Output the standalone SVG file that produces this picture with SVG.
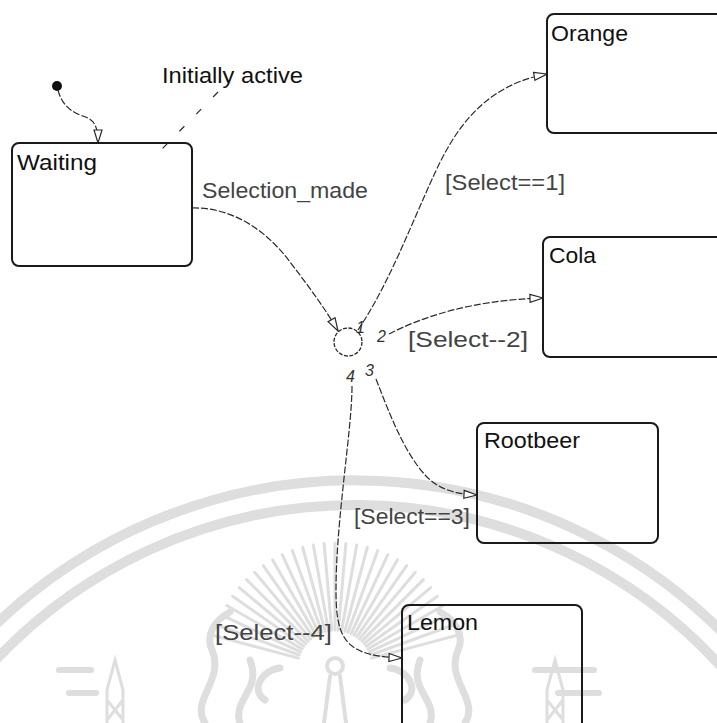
<svg xmlns="http://www.w3.org/2000/svg" xmlns:xlink="http://www.w3.org/1999/xlink" width="717" height="723" viewBox="0 0 717 723">
  <style>
    .wm { fill: none; stroke: #dedede; stroke-linecap: round; }
    .box { fill: none; stroke: #1a1a1a; stroke-width: 2; }
    .title { font-family: "Liberation Sans", Arial, sans-serif; font-size: 22px; fill: #111; }
    .label { font-family: "Liberation Sans", Arial, sans-serif; font-size: 22px; fill: #444; }
    .num { font-family: "Liberation Sans", Arial, sans-serif; font-size: 16px; font-style: italic; fill: #333; }
    .conn { fill: none; stroke: #2a2a2a; stroke-width: 1.2; stroke-dasharray: 7 2; marker-end: url(#open); }
    .note { fill: none; stroke: #2a2a2a; stroke-width: 1.2; stroke-dasharray: 7 17; }
  </style>
  <defs>
    <marker id="open" viewBox="0 0 15 10" refX="14" refY="5" markerWidth="15" markerHeight="10" markerUnits="userSpaceOnUse" orient="auto">
      <path d="M1,1 L14,5 L1,9 Z" fill="#fff" stroke="#2a2a2a" stroke-width="1.2" stroke-dasharray="none"/>
    </marker>
    <line id="ray" x1="38" y1="0" x2="125" y2="0"/>
  </defs>

  <!-- faint watermark -->
  <g id="watermark">
    <path class="wm" stroke-width="10" d="M -10 630 A 520 520 0 0 1 727 637"/>
    <path class="wm" stroke-width="10" d="M -10 666 A 495 495 0 0 1 727 673"/>
    <g class="wm" stroke-width="3" transform="translate(335 668)">
      <use xlink:href="#ray" transform="rotate(-165)"/>
      <use xlink:href="#ray" transform="rotate(-160)"/>
      <use xlink:href="#ray" transform="rotate(-155)"/>
      <use xlink:href="#ray" transform="rotate(-150)"/>
      <use xlink:href="#ray" transform="rotate(-145)"/>
      <use xlink:href="#ray" transform="rotate(-140)"/>
      <use xlink:href="#ray" transform="rotate(-135)"/>
      <use xlink:href="#ray" transform="rotate(-130)"/>
      <use xlink:href="#ray" transform="rotate(-125)"/>
      <use xlink:href="#ray" transform="rotate(-120)"/>
      <use xlink:href="#ray" transform="rotate(-115)"/>
      <use xlink:href="#ray" transform="rotate(-110)"/>
      <use xlink:href="#ray" transform="rotate(-105)"/>
      <use xlink:href="#ray" transform="rotate(-100)"/>
      <use xlink:href="#ray" transform="rotate(-95)"/>
      <use xlink:href="#ray" transform="rotate(-90)"/>
      <use xlink:href="#ray" transform="rotate(-85)"/>
      <use xlink:href="#ray" transform="rotate(-80)"/>
      <use xlink:href="#ray" transform="rotate(-75)"/>
      <use xlink:href="#ray" transform="rotate(-70)"/>
      <use xlink:href="#ray" transform="rotate(-65)"/>
      <use xlink:href="#ray" transform="rotate(-60)"/>
      <use xlink:href="#ray" transform="rotate(-55)"/>
      <use xlink:href="#ray" transform="rotate(-50)"/>
      <use xlink:href="#ray" transform="rotate(-45)"/>
      <use xlink:href="#ray" transform="rotate(-40)"/>
      <use xlink:href="#ray" transform="rotate(-35)"/>
      <use xlink:href="#ray" transform="rotate(-30)"/>
      <use xlink:href="#ray" transform="rotate(-25)"/>
      <use xlink:href="#ray" transform="rotate(-20)"/>
      <use xlink:href="#ray" transform="rotate(-15)"/>
    </g>
    <circle class="wm" stroke-width="4" cx="335" cy="666" r="8"/>
    <path class="wm" stroke-width="4" d="M 330 676 L 324 723 M 340 676 L 346 723"/>
    <path class="wm" stroke-width="6" d="M 59 670 L 91 670 M 69 693 L 96 693 M 535 670 L 594 670 M 558 693 L 599 693"/>
    <path class="wm" stroke-width="7" d="M 205 723 C 190 700, 225 680, 212 650 C 205 635, 215 620, 230 612 M 240 723 C 232 700, 262 690, 250 660 M 265 700 C 250 690, 262 670, 280 668"/>
    <path class="wm" stroke-width="7" d="M 465 723 C 480 700, 445 680, 458 650 C 465 635, 455 620, 440 612 M 430 723 C 438 700, 408 690, 420 660 M 405 700 C 420 690, 408 670, 390 668"/>
    <path class="wm" stroke-width="3" d="M 107 723 L 107 690 L 115 660 L 123 690 L 123 723 M 107 700 L 123 720 M 123 700 L 107 720"/>
    <path class="wm" stroke-width="3" d="M 547 723 L 547 690 L 555 660 L 563 690 L 563 723 M 547 700 L 563 720 M 563 700 L 547 720"/>
  </g>

  <!-- connectors -->
  <g id="connectors">
    <circle id="initial" cx="57" cy="86" r="5" fill="#111"/>
    <path class="conn" d="M 58 90 C 61 102, 68 110, 80 115 C 92 119, 98 122, 98 143"/>
    <path class="note" d="M 218 92 L 162 149"/>
    <path class="conn" d="M 192 208 C 232 207, 266 230, 290 262 C 310 288, 326 310, 338 331"/>
    <path class="conn" d="M 358 330 C 385 290, 405 240, 425 195 C 445 150, 470 88, 547 74"/>
    <path class="conn" d="M 389 334 C 420 318, 470 300, 543 298"/>
    <path class="conn" d="M 376 379 C 390 415, 405 455, 428 478 C 442 491, 458 494, 477 495"/>
    <path class="conn" d="M 352 386 C 352 430, 336 520, 336 590 C 336 640, 345 656, 402 658"/>
    <text class="label" x="202" y="198" textLength="166" lengthAdjust="spacingAndGlyphs">Selection_made</text>
    <text class="label" x="445" y="190" textLength="120" lengthAdjust="spacingAndGlyphs">[Select==1]</text>
    <text class="label" x="408" y="347" textLength="120" lengthAdjust="spacingAndGlyphs">[Select--2]</text>
    <text class="label" x="354" y="524" textLength="116" lengthAdjust="spacingAndGlyphs">[Select==3]</text>
    <text class="label" x="215" y="640" textLength="117" lengthAdjust="spacingAndGlyphs">[Select--4]</text>
    <text class="num" x="356" y="333" font-size="11">1</text>
    <text class="num" x="377" y="342">2</text>
    <text class="num" x="365" y="376">3</text>
    <text class="num" x="346" y="382">4</text>
  </g>

  <g id="note-initially-active">
    <text class="title" x="162" y="83" textLength="141" lengthAdjust="spacingAndGlyphs">Initially active</text>
  </g>

  <g id="junction">
    <circle cx="348" cy="342" r="14" fill="none" stroke="#2a2a2a" stroke-width="1.3" stroke-dasharray="4 1.5"/>
  </g>

  <g id="waiting">
    <rect class="box" x="12" y="143" width="180" height="123" rx="7"/>
    <text class="title" x="17" y="170" textLength="80" lengthAdjust="spacingAndGlyphs">Waiting</text>
  </g>
  <g id="orange">
    <rect class="box" x="547" y="14" width="180" height="119" rx="7"/>
    <text class="title" x="551" y="41" textLength="77" lengthAdjust="spacingAndGlyphs">Orange</text>
  </g>
  <g id="cola">
    <rect class="box" x="543" y="237" width="180" height="120" rx="7"/>
    <text class="title" x="549" y="263" textLength="47" lengthAdjust="spacingAndGlyphs">Cola</text>
  </g>
  <g id="rootbeer">
    <rect class="box" x="477" y="423" width="181" height="120" rx="7"/>
    <text class="title" x="484" y="448" textLength="96" lengthAdjust="spacingAndGlyphs">Rootbeer</text>
  </g>
  <g id="lemon">
    <rect class="box" x="402" y="605" width="180" height="130" rx="7"/>
    <text class="title" x="407" y="630" textLength="71" lengthAdjust="spacingAndGlyphs">Lemon</text>
  </g>
</svg>
